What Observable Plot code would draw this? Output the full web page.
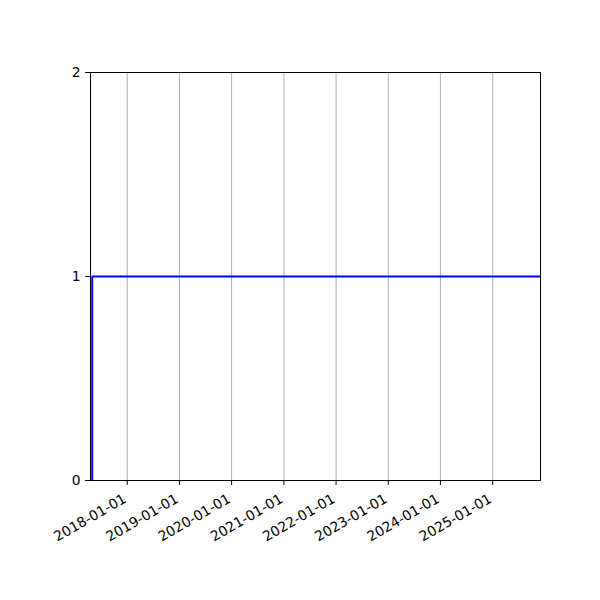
<!DOCTYPE html>
<html>
<head>
<meta charset="utf-8">
<script src="https://cdn.jsdelivr.net/npm/d3@7"></script>
<script src="https://cdn.jsdelivr.net/npm/@observablehq/plot@0.6"></script>
<style>
  html, body { margin: 0; padding: 0; background: #fff; }
  #chart { width: 600px; height: 600px; }
</style>
</head>
<body>
<div id="chart"></div>
<script>
// Data
const dates = ["2017-05-01", "2017-05-01", "2026-06-01"];
const values = [0, 1, 1];
const xDomain = ["2017-04-19", "2025-12-01"];
const xTickDates = ["2018-01-01", "2019-01-01", "2020-01-01", "2021-01-01",
                    "2022-01-01", "2023-01-01", "2024-01-01", "2025-01-01"];
const yTicks = [0, 1, 2];

const parse = d3.utcParse("%Y-%m-%d");
const data = dates.map((d, i) => ({ date: parse(d), value: values[i] }));
const ticks = xTickDates.map(parse);
const fmt = d3.utcFormat("%Y-%m-%d");

const chart = Plot.plot({
  width: 600,
  height: 600,
  marginLeft: 90,
  marginRight: 60,
  marginTop: 72,
  marginBottom: 120,
  style: { fontFamily: "DejaVu Sans", fontSize: "13.9px", background: "#fff", color: "#000" },
  x: { type: "utc", domain: xDomain.map(parse) },
  y: { domain: [0, 2] },
  marks: [
    Plot.gridX(ticks, { stroke: "#b0b0b0", strokeOpacity: 1, strokeWidth: 1 }),
    Plot.line(data, { x: "date", y: "value", stroke: "#0000ff", strokeWidth: 2, clip: true }),
    Plot.frame({ stroke: "#000", strokeWidth: 1 }),
    Plot.axisX({ ticks: ticks, tickSize: 4.9, text: null, label: null, strokeWidth: 1 }),
    Plot.text(ticks, {
      x: d => d,
      text: d => fmt(d),
      frameAnchor: "bottom",
      dy: 21,
      rotate: -30,
      textAnchor: "end",
      lineAnchor: "bottom",
      fontSize: 13.9,
      fill: "#000"
    }),
    Plot.axisY({
      ticks: yTicks,
      tickFormat: d => String(d),
      tickSize: 4.9,
      tickPadding: 4.9,
      label: null,
      fontSize: 13.9
    })
  ]
});
document.getElementById("chart").appendChild(chart);
</script>
</body>
</html>
